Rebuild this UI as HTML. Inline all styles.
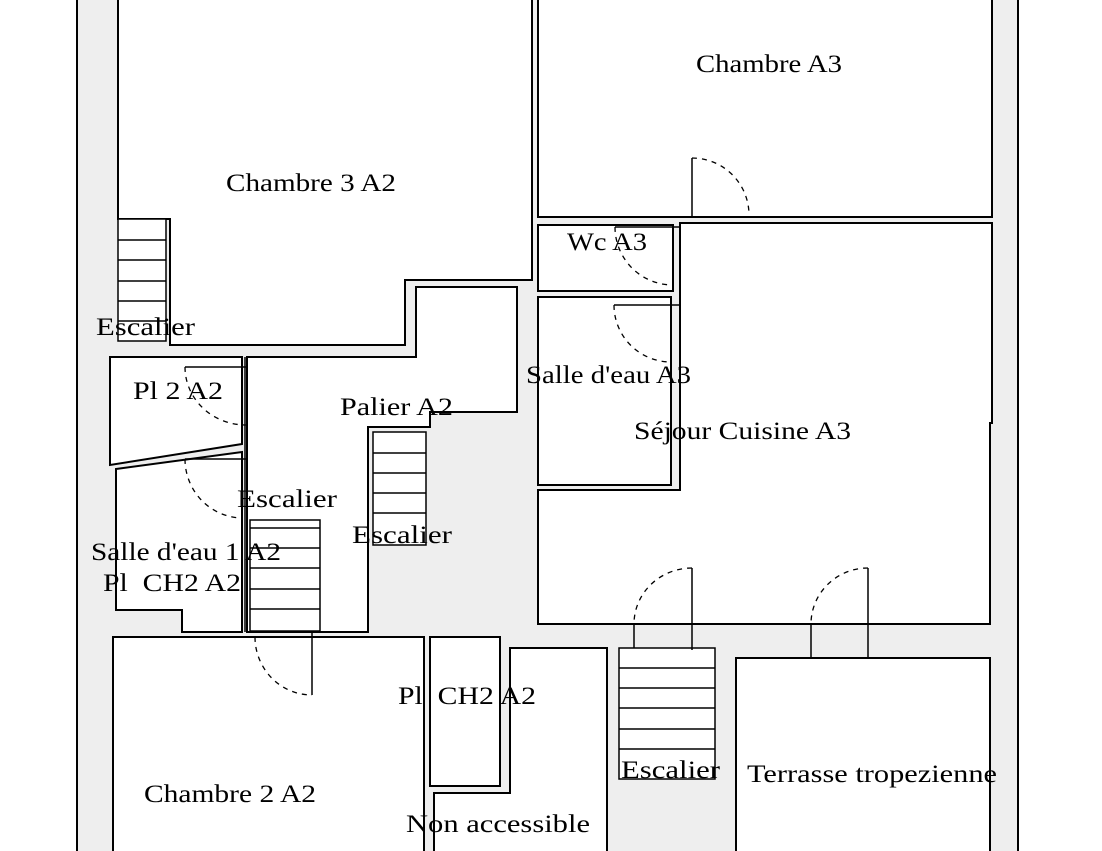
<!DOCTYPE html>
<html><head><meta charset="utf-8"><style>
html,body{margin:0;padding:0;background:#fff;}
svg{display:block;}
text{font-family:"Liberation Serif",serif;font-size:25px;fill:#000;}
</style></head><body>
<svg width="1102" height="851" viewBox="0 0 1102 851" xmlns="http://www.w3.org/2000/svg">
<rect x="77" y="-5" width="941" height="870" fill="#eeeeee" stroke="#000" stroke-width="2"/>
<g fill="#fff" stroke="#000" stroke-width="2">
<polygon points="118,-5 532,-5 532,280 405,280 405,345 170,345 170,219 118,219"/>
<polygon points="247,357 416,357 416,287 517,287 517,412 430,412 430,427 368,427 368,632 247,632"/>
<polygon points="110,357 242,357 242,444 110,465"/>
<polygon points="116,469 242,452 242,632 182,632 182,610 116,610"/>
<rect x="538" y="-5" width="454" height="222"/>
<rect x="538" y="225" width="135" height="66"/>
<rect x="538" y="297" width="133" height="188"/>
<polygon points="680,223 992,223 992,423 990,423 990,624 538,624 538,490 680,490"/>
<rect x="113" y="637" width="311" height="230"/>
<rect x="430" y="637" width="70" height="149"/>
<polygon points="510,648 607,648 607,867 434,867 434,793 510,793"/>
<rect x="736" y="658" width="254" height="210"/>
</g>
<g fill="#fff" stroke="#000" stroke-width="1.5">
<rect x="118" y="219" width="48" height="122"/>
<rect x="250" y="520" width="70" height="111"/>
<rect x="373" y="432" width="53" height="113"/>
<rect x="619" y="648" width="96" height="131"/>
</g>
<g stroke="#000" stroke-width="1.5" fill="none">
<path d="M118 240H166M118 260H166M118 281H166M118 301H166M118 321H166"/>
<path d="M250 528H320M250 548H320M250 568H320M250 589H320M250 609H320"/>
<path d="M373 453H426M373 473H426M373 493H426M373 513H426"/>
<path d="M619 668H715M619 688H715M619 708H715M619 729H715M619 749H715"/>
<path d="M245 357V632"/>
<path d="M185 367H246M185 459H246M692 158V217M615 227H680M614 305H680M692 568V650M634 624V648M868 568V658M811 624V658M312 632V695"/>
</g>
<g stroke="#000" stroke-width="1.3" fill="none" stroke-dasharray="5,5">
<path d="M185 367A61 58 0 0 0 246 425"/>
<path d="M185 459A58 59 0 0 0 243 518"/>
<path d="M692 158A57 57 0 0 1 749 215"/>
<path d="M615 227A58 58 0 0 0 673 285"/>
<path d="M614 305A57 57 0 0 0 671 362"/>
<path d="M692 568A58 56 0 0 0 634 624"/>
<path d="M868 568A57 56 0 0 0 811 624"/>
<path d="M255 637A57 58 0 0 0 312 695"/>
</g>
<text x="696" y="72" textLength="146" lengthAdjust="spacingAndGlyphs">Chambre A3</text>
<text x="226" y="191" textLength="170" lengthAdjust="spacingAndGlyphs">Chambre 3 A2</text>
<text x="567" y="250" textLength="80" lengthAdjust="spacingAndGlyphs">Wc A3</text>
<text x="96" y="335" textLength="99" lengthAdjust="spacingAndGlyphs">Escalier</text>
<text x="526" y="383" textLength="165" lengthAdjust="spacingAndGlyphs">Salle d'eau A3</text>
<text x="133" y="399" textLength="90" lengthAdjust="spacingAndGlyphs">Pl 2 A2</text>
<text x="340" y="415" textLength="113" lengthAdjust="spacingAndGlyphs">Palier A2</text>
<text x="634" y="439" textLength="217" lengthAdjust="spacingAndGlyphs">Séjour Cuisine A3</text>
<text x="237" y="507" textLength="100" lengthAdjust="spacingAndGlyphs">Escalier</text>
<text x="352" y="543" textLength="100" lengthAdjust="spacingAndGlyphs">Escalier</text>
<text x="91" y="560" textLength="190" lengthAdjust="spacingAndGlyphs">Salle d'eau 1 A2</text>
<text x="103" y="591" textLength="138" lengthAdjust="spacingAndGlyphs" xml:space="preserve">Pl  CH2 A2</text>
<text x="398" y="704" textLength="138" lengthAdjust="spacingAndGlyphs" xml:space="preserve">Pl  CH2 A2</text>
<text x="621" y="778" textLength="99" lengthAdjust="spacingAndGlyphs">Escalier</text>
<text x="747" y="782" textLength="250" lengthAdjust="spacingAndGlyphs">Terrasse tropezienne</text>
<text x="144" y="802" textLength="172" lengthAdjust="spacingAndGlyphs">Chambre 2 A2</text>
<text x="406" y="832" textLength="184" lengthAdjust="spacingAndGlyphs">Non accessible</text>
</svg>
</body></html>
